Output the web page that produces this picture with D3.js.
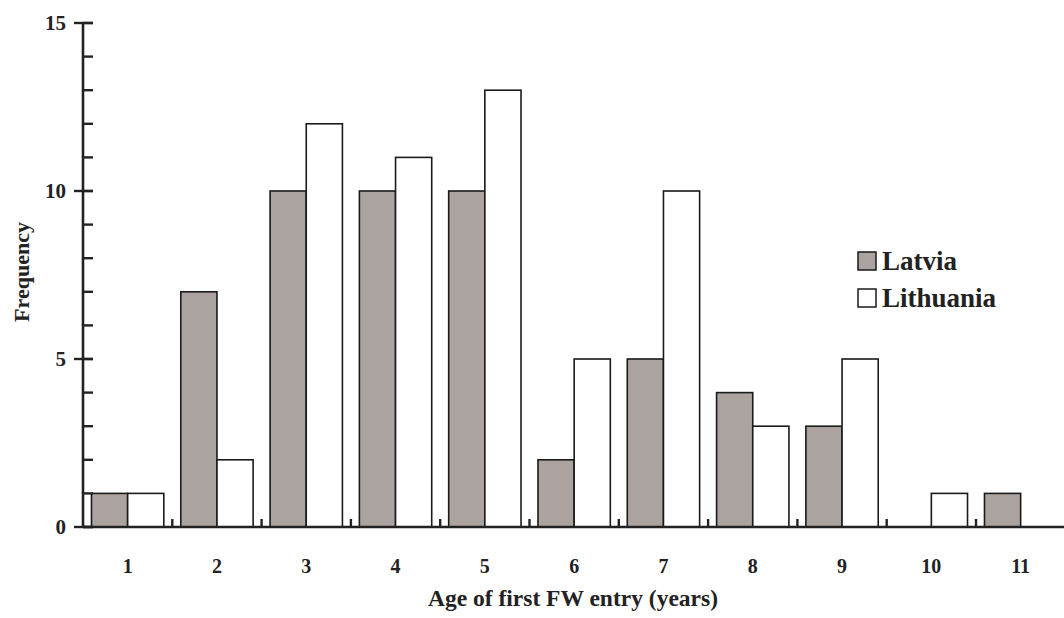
<!DOCTYPE html>
<html>
<head>
<meta charset="utf-8">
<script src="https://cdn.jsdelivr.net/npm/d3@7"></script>
<style>
  body { margin: 0; background: #fff; }
  text { font-family: "Liberation Serif", "Times New Roman", serif; font-weight: bold; fill: #222; }
</style>
</head>
<body>
<svg id="chart" width="1064" height="618"></svg>
<script>
// age of first freshwater entry, frequency per country
let ages = ["1", "2", "3", "4", "5", "6", "7", "8", "9", "10", "11"]
let latvia = [1, 7, 10, 10, 10, 2, 5, 4, 3, 0, 1]
let lithuania = [1, 2, 12, 11, 13, 5, 10, 3, 5, 1, 0]
let yTicks = [0, 5, 10, 15]
let seriesNames = ["Latvia", "Lithuania"]

let svg = d3.select("#chart")

let x0 = 83, yTop = 23, yBase = 527
let step = 89.3

let x = d3.scaleBand()
    .domain(ages)
    .range([x0, x0 + step * ages.length])
    .paddingInner(0.19)
    .paddingOuter(0.095)

let xs = d3.scaleBand()
    .domain(seriesNames)
    .range([0, x.bandwidth()])

let y = d3.scaleLinear()
    .domain([0, 15])
    .range([yBase, yTop])

let colors = { "Latvia": "#aba39f", "Lithuania": "#ffffff" }

let rows = ages.map(function(a, i) {
  return { age: a, values: [
    { name: "Latvia", v: latvia[i] },
    { name: "Lithuania", v: lithuania[i] }
  ] }
})

let g = svg.selectAll(".group")
    .data(rows).enter()
    .append("g")
      .attr("transform", function(d) { return "translate(" + x(d.age) + ",0)" })

g.selectAll("rect")
    .data(function(d) { return d.values.filter(function(e) { return e.v > 0 }) })
    .enter().append("rect")
      .attr("x", function(d) { return xs(d.name) })
      .attr("y", function(d) { return y(d.v) })
      .attr("width", xs.bandwidth())
      .attr("height", function(d) { return yBase - y(d.v) })
      .style("fill", function(d) { return colors[d.name] })
      .style("stroke", "#1a1a1a")
      .style("stroke-width", 1.6)

// y axis: major ticks crossing the line, minor ones inside
let yAxis = svg.append("g").attr("transform", "translate(" + x0 + ",0)")
yAxis.append("line")
    .attr("y1", y(15)).attr("y2", yBase + 1)
    .style("stroke", "#222").style("stroke-width", 2.6)
yAxis.selectAll(".minor")
    .data(d3.range(0, 16)).enter()
    .append("line")
      .attr("x1", 0).attr("x2", 10)
      .attr("y1", function(d) { return y(d) }).attr("y2", function(d) { return y(d) })
      .style("stroke", "#222").style("stroke-width", 2.4)
yAxis.selectAll(".major")
    .data(yTicks).enter()
    .append("line")
      .attr("x1", -9).attr("x2", 10)
      .attr("y1", function(d) { return y(d) }).attr("y2", function(d) { return y(d) })
      .style("stroke", "#222").style("stroke-width", 2.4)
yAxis.selectAll(".lab")
    .data(yTicks).enter()
    .append("text")
      .attr("x", -17)
      .attr("y", function(d) { return y(d) })
      .attr("dy", "0.35em")
      .attr("text-anchor", "end")
      .style("font-size", "21px")
      .text(function(d) { return d })

// x axis: small ticks between groups
let xAxis = svg.append("g")
xAxis.append("line")
    .attr("x1", x0).attr("x2", 1064)
    .attr("y1", yBase).attr("y2", yBase)
    .style("stroke", "#222").style("stroke-width", 2.6)
xAxis.selectAll(".tick")
    .data(ages.slice(1)).enter()
    .append("line")
      .attr("x1", function(d) { return x(d) - x.step() * 0.095 })
      .attr("x2", function(d) { return x(d) - x.step() * 0.095 })
      .attr("y1", yBase).attr("y2", yBase - 8)
      .style("stroke", "#222").style("stroke-width", 2.4)
xAxis.selectAll(".lab")
    .data(ages).enter()
    .append("text")
      .attr("x", function(d) { return x(d) + x.bandwidth() / 2 })
      .attr("y", 573)
      .attr("text-anchor", "middle")
      .style("font-size", "20px")
      .text(function(d) { return d })

svg.append("text")
    .attr("x", 573).attr("y", 606)
    .attr("text-anchor", "middle")
    .style("font-size", "23.5px")
    .text("Age of first FW entry (years)")

svg.append("text")
    .attr("transform", "translate(29,272) rotate(-90)")
    .attr("text-anchor", "middle")
    .style("font-size", "22px")
    .text("Frequency")

// legend
let legend = svg.selectAll(".legend")
    .data(seriesNames).enter()
    .append("g")
      .attr("transform", function(d, i) { return "translate(858," + (252 + i * 37) + ")" })
legend.append("rect")
    .attr("width", 18).attr("height", 18)
    .style("fill", function(d) { return colors[d] })
    .style("stroke", "#1a1a1a").style("stroke-width", 1.5)
legend.append("text")
    .attr("x", 24).attr("y", 18)
    .style("font-size", "27px")
    .text(function(d) { return d })
</script>
</body>
</html>
